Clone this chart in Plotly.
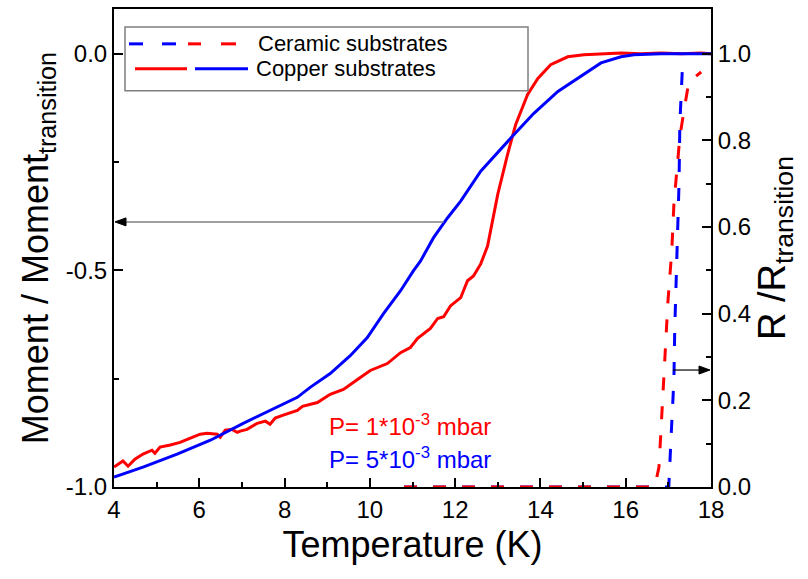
import plotly.graph_objects as go

# ---------------- data ----------------
# Copper substrates, moment (left axis) - red, P = 1e-3 mbar
temp_cu_red = [4.00, 4.21, 4.33, 4.49, 4.68, 4.89, 4.96, 5.08, 5.32, 5.55, 5.79, 6.02,
               6.18, 6.42, 6.49, 6.61, 6.77, 6.89, 6.96, 7.12, 7.36, 7.55, 7.66, 7.78,
               7.97, 8.13, 8.30, 8.42, 8.60, 8.77, 9.07, 9.38, 9.71, 10.01, 10.41, 10.72,
               10.95, 11.12, 11.42, 11.59, 11.73, 11.89, 12.13, 12.29, 12.43, 12.60, 12.76,
               13.00, 13.23, 13.42, 13.70, 13.94, 14.24, 14.64, 15.02, 15.42, 15.89, 16.36,
               16.83, 17.30, 17.77, 18.00]
moment_cu_red = [-0.954, -0.940, -0.952, -0.936, -0.924, -0.915, -0.922, -0.908, -0.903,
                 -0.897, -0.887, -0.878, -0.876, -0.878, -0.885, -0.869, -0.867, -0.874,
                 -0.871, -0.867, -0.853, -0.848, -0.855, -0.841, -0.834, -0.828, -0.823,
                 -0.814, -0.809, -0.805, -0.786, -0.775, -0.752, -0.731, -0.715, -0.690,
                 -0.678, -0.657, -0.634, -0.611, -0.607, -0.582, -0.563, -0.524, -0.513,
                 -0.485, -0.444, -0.324, -0.232, -0.163, -0.094, -0.057, -0.025, -0.007,
                 -0.002, 0.000, 0.002, 0.000, 0.002, 0.000, 0.002, 0.000]

# Copper substrates, moment (left axis) - blue, P = 5e-3 mbar
temp_cu_blue = [4.00, 4.68, 5.48, 6.26, 7.03, 7.83, 8.30, 8.60, 9.07, 9.54, 9.94, 10.32,
                10.72, 11.02, 11.19, 11.49, 11.82, 12.13, 12.43, 12.60, 13.30, 13.84, 14.41,
                14.88, 15.42, 15.89, 16.19, 16.83, 18.00]
moment_cu_blue = [-0.977, -0.954, -0.924, -0.892, -0.853, -0.816, -0.793, -0.770, -0.738,
                  -0.697, -0.655, -0.600, -0.547, -0.501, -0.478, -0.425, -0.379, -0.340,
                  -0.294, -0.271, -0.195, -0.138, -0.087, -0.057, -0.021, -0.007, -0.002,
                  0.000, 0.000]

# Ceramic substrates, R/R_transition (right axis)
temp_cer_red = [10.80, 12.00, 14.00, 16.00, 16.68, 16.78, 16.83, 16.92, 16.99, 17.08,
                17.13, 17.20, 17.27, 17.37, 17.48, 17.77]
r_cer_red = [0.0, 0.0, 0.0, 0.0, 0.0, 0.046, 0.131, 0.303, 0.428, 0.545,
             0.653, 0.731, 0.809, 0.871, 0.935, 0.958]

temp_cer_blue = [10.80, 12.00, 14.00, 16.00, 17.01, 17.06, 17.13, 17.15, 17.20, 17.25,
                 17.27, 17.32, 17.34]
r_cer_blue = [0.0, 0.0, 0.0, 0.0, 0.0, 0.108, 0.248, 0.365, 0.545, 0.700,
              0.840, 0.966, 0.990]

x_ticks = [4, 6, 8, 10, 12, 14, 16, 18]
y_ticks = [-1.0, -0.5, 0.0]
y_ticktext = ["-1.0", "-0.5", "0.0"]
y2_ticks = [0.0, 0.2, 0.4, 0.6, 0.8, 1.0]
y2_ticktext = ["0.0", "0.2", "0.4", "0.6", "0.8", "1.0"]

arrow_left = dict(T_from=11.73, T_to=4.0, value=-0.388)
arrow_right = dict(T_from=17.11, T_to=18.0, value=0.27)

RED = "#ff0000"
BLUE = "#0000ff"
FONT = "Arial, Liberation Sans, sans-serif"

# ---------------- figure ----------------
W, H = 808, 579
L, R, T, B = 114, 97, 7, 92
PW, PH = W - L - R, H - T - B


def px(x):
    return (x - L) / PW


def py(y):
    return (H - B - y) / PH


fig = go.Figure()
fig.add_trace(go.Scatter(x=temp_cu_red, y=moment_cu_red, mode="lines",
                         line=dict(color=RED, width=3), showlegend=False))
fig.add_trace(go.Scatter(x=temp_cu_blue, y=moment_cu_blue, mode="lines",
                         line=dict(color=BLUE, width=3), showlegend=False))
fig.add_trace(go.Scatter(x=temp_cer_blue, y=r_cer_blue, mode="lines", yaxis="y2",
                         line=dict(color=BLUE, width=3, dash="13px,16px"), showlegend=False))
fig.add_trace(go.Scatter(x=temp_cer_red, y=r_cer_red, mode="lines", yaxis="y2",
                         line=dict(color=RED, width=3, dash="13px,16px"), showlegend=False))

axis_common = dict(showline=True, linecolor="black", linewidth=2, ticks="inside",
                   tickcolor="black", tickwidth=1.5, ticklen=9, showgrid=False,
                   zeroline=False, tickfont=dict(family=FONT, size=24, color="black"))

fig.update_layout(
    width=W, height=H,
    margin=dict(l=L, r=R, t=T, b=B),
    paper_bgcolor="white", plot_bgcolor="white",
    xaxis=dict(range=[4, 18], tickvals=x_ticks, mirror=True,
               minor=dict(tickvals=[5, 7, 9, 11, 13, 15, 17], ticks="inside",
                          ticklen=5, tickcolor="black", tickwidth=1.5),
               title=dict(text="Temperature (K)", font=dict(family=FONT, size=36, color="black"),
                          standoff=10),
               **axis_common),
    yaxis=dict(range=[-1.0, 0.1034], tickvals=y_ticks, ticktext=y_ticktext,
               minor=dict(tickvals=[-0.75, -0.25], ticks="inside", ticklen=5,
                          tickcolor="black", tickwidth=1.5),
               title=dict(text="Moment / Moment<sub>transition</sub>",
                          font=dict(family=FONT, size=36, color="black"), standoff=6),
               **axis_common),
    yaxis2=dict(range=[0.0, 1.1034], overlaying="y", side="right",
                tickvals=y2_ticks, ticktext=y2_ticktext,
                minor=dict(tickvals=[0.1, 0.3, 0.5, 0.7, 0.9], ticks="inside", ticklen=5,
                           tickcolor="black", tickwidth=1.5),
                title=dict(text="R /R<sub>transition</sub>",
                           font=dict(family=FONT, size=38, color="black"), standoff=8),
                **axis_common),
)

# ---- arrows (line + pixel-sized triangular head) ----
fig.add_shape(type="line", xref="x", yref="y",
              x0=arrow_left["T_from"], x1=arrow_left["T_to"] + 0.2,
              y0=arrow_left["value"], y1=arrow_left["value"],
              line=dict(color="#7f7f7f", width=1.5))
fig.add_shape(type="path", xref="x", yref="y", xsizemode="pixel", ysizemode="pixel",
              xanchor=arrow_left["T_to"], yanchor=arrow_left["value"],
              path="M1,0 L12,4 L12,-4 Z", fillcolor="black",
              line=dict(color="black", width=1))
fig.add_shape(type="line", xref="x", yref="y2",
              x0=arrow_right["T_from"], x1=arrow_right["T_to"] - 0.2,
              y0=arrow_right["value"], y1=arrow_right["value"],
              line=dict(color="black", width=1.2))
fig.add_shape(type="path", xref="x", yref="y2", xsizemode="pixel", ysizemode="pixel",
              xanchor=arrow_right["T_to"], yanchor=arrow_right["value"],
              path="M-1,0 L-12,4 L-12,-4 Z", fillcolor="black",
              line=dict(color="black", width=1))

# ---- pressure labels ----
fig.add_annotation(x=9.0, y=-0.857, xref="x", yref="y", xanchor="left", yanchor="middle",
                   text="P= 1*10<sup>-3</sup> mbar", showarrow=False,
                   font=dict(family=FONT, size=24, color=RED))
fig.add_annotation(x=9.0, y=-0.933, xref="x", yref="y", xanchor="left", yanchor="middle",
                   text="P= 5*10<sup>-3</sup> mbar", showarrow=False,
                   font=dict(family=FONT, size=24, color=BLUE))

# ---- hand-drawn legend ----
fig.add_shape(type="rect", xref="paper", yref="paper",
              x0=px(125), x1=px(528), y0=py(89), y1=py(25),
              line=dict(color="#7f7f7f", width=1.5), fillcolor="white", layer="above")
legend_rows = [
    (42, [(129, 143, BLUE), (162, 176, BLUE), (188, 201, RED), (221, 236, RED)],
     "Ceramic substrates", 256),
    (67, [(135, 187, RED), (195, 248, BLUE)], "Copper substrates", 254),
]
for yy, segs, label, tx in legend_rows:
    for x0, x1, col in segs:
        fig.add_shape(type="line", xref="paper", yref="paper", layer="above",
                      x0=px(x0), x1=px(x1), y0=py(yy), y1=py(yy),
                      line=dict(color=col, width=3))
    fig.add_annotation(x=px(tx), y=py(yy), xref="paper", yref="paper",
                       xanchor="left", yanchor="middle", text=label, showarrow=False,
                       font=dict(family=FONT, size=22, color="black"))

fig.write_html("out.html")
